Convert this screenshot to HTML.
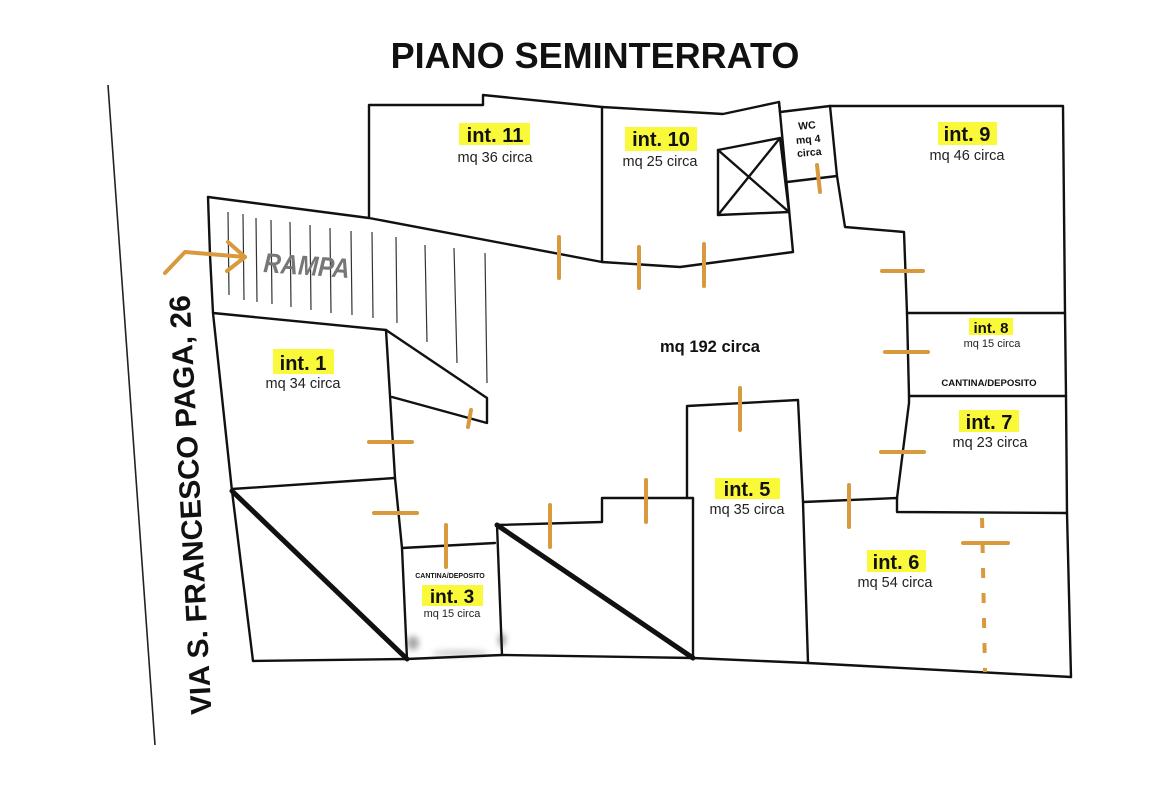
<!DOCTYPE html>
<html>
<head>
<meta charset="utf-8">
<style>
  html,body{margin:0;padding:0;background:#fff;}
  svg{display:block;}
  .w{fill:none;stroke:#111;stroke-width:2.4;stroke-linejoin:round;stroke-linecap:round;}
  .thick{fill:none;stroke:#111;stroke-width:5;stroke-linecap:round;}
  .h{fill:none;stroke:#333;stroke-width:1.2;}
  .o{fill:none;stroke:#d89a3c;stroke-width:4;stroke-linecap:round;stroke-linejoin:round;}
  .hl{fill:#f9f93a;}
  .lbl{font-family:"Liberation Sans",Arial,sans-serif;font-weight:bold;fill:#111;text-anchor:middle;}
  .mq{font-family:"Liberation Sans",Arial,sans-serif;fill:#222;text-anchor:middle;}
</style>
</head>
<body>
<svg width="1170" height="785" viewBox="0 0 1170 785" xmlns="http://www.w3.org/2000/svg">
  <defs>
    <filter id="bl" x="-50%" y="-50%" width="200%" height="200%"><feGaussianBlur stdDeviation="3"/></filter>
  </defs>
  <rect x="0" y="0" width="1170" height="785" fill="#fff"/>

  <!-- Title -->
  <text x="595" y="68" class="lbl" style="font-size:36px">PIANO SEMINTERRATO</text>

  <!-- street -->
  <line x1="108" y1="85" x2="155" y2="745" stroke="#222" stroke-width="1.6"/>
  <text class="lbl" style="font-size:29.5px" transform="translate(190,505) rotate(-93)" x="0" y="10.5">VIA S. FRANCESCO PAGA, 26</text>

  <!-- faint smudges -->
  <g filter="url(#bl)" opacity="0.5">
    <ellipse cx="413" cy="643" rx="6" ry="7" fill="#555"/>
    <ellipse cx="502" cy="640" rx="4" ry="7" fill="#555"/>
    <ellipse cx="460" cy="653" rx="28" ry="3" fill="#999"/>
  </g>

  <!-- ramp hatch lines -->
  <g class="h">
    <line x1="228" y1="212" x2="229" y2="295"/>
    <line x1="243" y1="214" x2="244" y2="300"/>
    <line x1="256" y1="218" x2="257" y2="302"/>
    <line x1="271" y1="220" x2="272" y2="304"/>
    <line x1="290" y1="222" x2="291" y2="307"/>
    <line x1="310" y1="225" x2="311" y2="310"/>
    <line x1="330" y1="228" x2="331" y2="313"/>
    <line x1="351" y1="231" x2="352" y2="315"/>
    <line x1="372" y1="232" x2="373" y2="318"/>
    <line x1="396" y1="237" x2="397" y2="323"/>
    <line x1="425" y1="245" x2="427" y2="342"/>
    <line x1="454" y1="248" x2="457" y2="363"/>
    <line x1="485" y1="253" x2="487" y2="383"/>
  </g>
  <text x="0" y="0" transform="translate(263,272) rotate(4) scale(1,1.15)" style="font-family:'Liberation Sans',Arial,sans-serif;font-weight:bold;font-style:italic;font-size:24px;fill:#777">RAMPA</text>

  <!-- walls -->
  <polyline class="w" points="208,197 369,218 602,262 680,267 793,252 779,102 723,114 602,107 483,95 483,105 369,105 369,218"/>
  <line class="w" x1="602" y1="107" x2="602" y2="262"/>
  <polyline class="w" points="208,197 210,255 213,313 386,330 487,398 487,423 392,397"/>
  <polyline class="w" points="213,313 232,491 253,661 407,659 502,655 693,658 808,663 1071,677"/>
  <polyline class="w" points="386,330 395,478 402,548 407,659"/>
  <line class="w" x1="232" y1="489" x2="395" y2="478"/>
  <line class="w" x1="402" y1="548" x2="495" y2="543"/>
  <polyline class="w" points="502,655 497,525 602,522 602,498 693,498 693,658"/>
  <polyline class="w" points="687,498 687,406 798,400 803,502 808,663"/>
  <polyline class="w" points="803,502 897,498 897,512 1067,513"/>
  <polyline class="w" points="897,498 909,403 909,396 907,313"/>
  <line class="w" x1="907" y1="313" x2="1065" y2="313"/>
  <line class="w" x1="909" y1="396" x2="1066" y2="396"/>
  <polyline class="w" points="907,313 904,232 845,227 837,176 830,106 1063,106 1065,313 1066,396 1067,513 1071,677"/>
  <polyline class="w" points="779,102 780,112 830,106"/>
  <line class="w" x1="787" y1="182" x2="837" y2="176"/>
  <!-- elevator -->
  <polygon class="w" points="718,150 780,138 789,212 718,215"/>
  <line class="w" x1="718" y1="150" x2="789" y2="212"/>
  <line class="w" x1="780" y1="138" x2="718" y2="215"/>

  <!-- thick diagonals -->
  <line class="thick" x1="232" y1="491" x2="407" y2="659"/>
  <line class="thick" x1="497" y1="525" x2="693" y2="658"/>

  <!-- orange doors -->
  <g class="o">
    <line x1="559" y1="237" x2="559" y2="278"/>
    <line x1="639" y1="247" x2="639" y2="288"/>
    <line x1="704" y1="244" x2="704" y2="286"/>
    <line x1="817" y1="165" x2="820" y2="192"/>
    <line x1="882" y1="271" x2="923" y2="271"/>
    <line x1="885" y1="352" x2="928" y2="352"/>
    <line x1="881" y1="452" x2="924" y2="452"/>
    <line x1="849" y1="485" x2="849" y2="527"/>
    <line x1="740" y1="388" x2="740" y2="430"/>
    <line x1="471" y1="410" x2="468" y2="427"/>
    <line x1="369" y1="442" x2="412" y2="442"/>
    <line x1="374" y1="513" x2="417" y2="513"/>
    <line x1="446" y1="525" x2="446" y2="567"/>
    <line x1="550" y1="505" x2="550" y2="547"/>
    <line x1="646" y1="480" x2="646" y2="522"/>
    <line x1="963" y1="543" x2="1008" y2="543"/>
    <line x1="982" y1="515" x2="985" y2="672" stroke-dasharray="10,15" stroke-linecap="butt" stroke-dashoffset="-3"/>
    <polyline points="165,273 185,252 245,257"/>
    <polyline points="228,242 245,257 227,271"/>
  </g>

  <!-- labels -->
  <rect class="hl" x="459" y="123" width="71" height="22"/>
  <text class="lbl" x="495" y="142" style="font-size:20px">int. 11</text>
  <text class="mq" x="495" y="162" style="font-size:14.5px">mq 36 circa</text>

  <rect class="hl" x="625" y="127" width="72" height="24"/>
  <text class="lbl" x="661" y="146" style="font-size:20px">int. 10</text>
  <text class="mq" x="660" y="166" style="font-size:14.5px">mq 25 circa</text>

  <g transform="rotate(-5 808 138)">
    <text class="lbl" x="808" y="129" style="font-size:10.5px">WC</text>
    <text class="lbl" x="808" y="143" style="font-size:10.5px">mq 4</text>
    <text class="lbl" x="808" y="156" style="font-size:10.5px">circa</text>
  </g>

  <rect class="hl" x="938" y="122" width="59" height="23"/>
  <text class="lbl" x="967" y="141" style="font-size:20px">int. 9</text>
  <text class="mq" x="967" y="160" style="font-size:14.5px">mq 46 circa</text>

  <rect class="hl" x="969" y="318" width="44" height="17"/>
  <text class="lbl" x="991" y="333" style="font-size:15px">int. 8</text>
  <text class="mq" x="992" y="347" style="font-size:11px">mq 15 circa</text>
  <text class="lbl" x="989" y="386" style="font-size:9.6px">CANTINA/DEPOSITO</text>

  <rect class="hl" x="959" y="410" width="60" height="22"/>
  <text class="lbl" x="989" y="429" style="font-size:20px">int. 7</text>
  <text class="mq" x="990" y="447" style="font-size:14.5px">mq 23 circa</text>

  <text class="lbl" x="710" y="352" style="font-size:16.5px">mq 192 circa</text>

  <rect class="hl" x="715" y="478" width="65" height="21"/>
  <text class="lbl" x="747" y="496" style="font-size:20px">int. 5</text>
  <text class="mq" x="747" y="514" style="font-size:14.5px">mq 35 circa</text>

  <rect class="hl" x="867" y="550" width="59" height="22"/>
  <text class="lbl" x="896" y="569" style="font-size:20px">int. 6</text>
  <text class="mq" x="895" y="587" style="font-size:14.5px">mq 54 circa</text>

  <text class="lbl" x="450" y="578" style="font-size:7px">CANTINA/DEPOSITO</text>
  <rect class="hl" x="422" y="585" width="61" height="21"/>
  <text class="lbl" x="452" y="603" style="font-size:19px">int. 3</text>
  <text class="mq" x="452" y="617" style="font-size:11px">mq 15 circa</text>

  <rect class="hl" x="273" y="349" width="61" height="25"/>
  <text class="lbl" x="303" y="370" style="font-size:20px">int. 1</text>
  <text class="mq" x="303" y="388" style="font-size:14.5px">mq 34 circa</text>
</svg>
</body>
</html>
